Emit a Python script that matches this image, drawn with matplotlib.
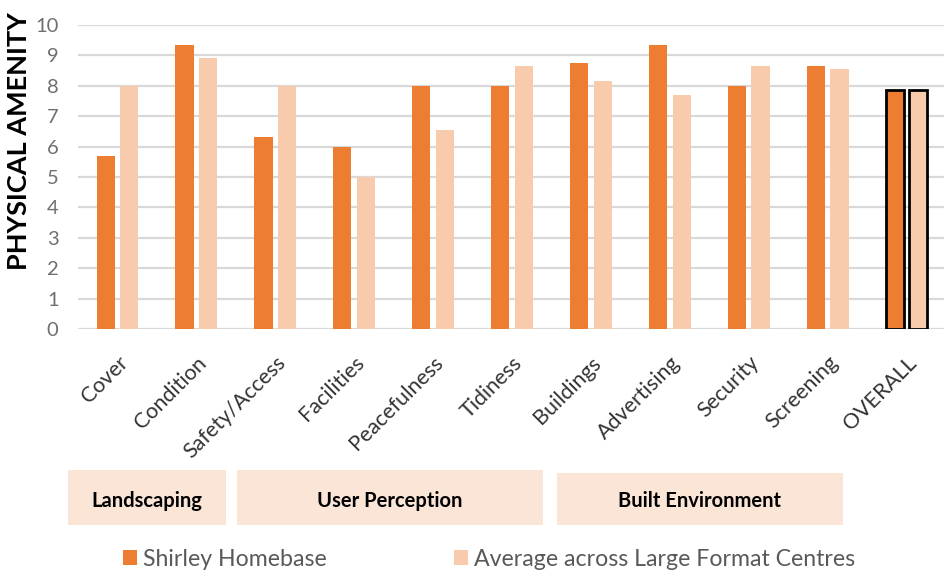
import matplotlib
matplotlib.use("Agg")
import matplotlib.pyplot as plt
import numpy as np
from matplotlib.patches import Rectangle, Patch

plt.rcParams['font.family'] = ['Lato', 'DejaVu Sans']

categories = ["Cover", "Condition", "Safety/Access", "Facilities", "Peacefulness",
              "Tidiness", "Buildings", "Advertising", "Security", "Screening", "OVERALL"]
shirley = [5.7, 9.35, 6.3, 6.0, 8.0, 8.0, 8.75, 9.35, 8.0, 8.65, 7.85]
average = [8.0, 8.9, 8.0, 5.0, 6.55, 8.65, 8.15, 7.7, 8.65, 8.55, 7.85]
series_names = ["Shirley Homebase", "Average across Large Format Centres"]
groups = ["Landscaping", "User Perception", "Built Environment"]
yticks = list(range(0, 11))

C_DARK = "#ED7D31"
C_LIGHT = "#F8CBAD"
GREY = "#595959"

W, H = 945, 572
fig = plt.figure(figsize=(W / 100, H / 100), dpi=100)
ax = fig.add_axes([78 / W, 1 - 329 / H, 868 / W, 304 / H])

x = np.arange(len(categories))
bw = 0.23
off = 0.15
edges = ['none'] * (len(categories) - 1) + ['black']
lws = [0] * (len(categories) - 1) + [2]
ax.bar(x - off, shirley, bw, color=C_DARK, edgecolor=edges, linewidth=lws, zorder=3)
ax.bar(x + off, average, bw, color=C_LIGHT, edgecolor=edges, linewidth=lws, zorder=3)

ax.set_xlim(-0.5, len(categories) - 0.5)
ax.set_ylim(0, 10)
ax.set_yticks(yticks)
ax.set_yticklabels([str(t) for t in yticks], fontsize=14.5, color="#6f6f6f")
ax.yaxis.grid(True, color="#D9D9D9", linewidth=1.6, zorder=0)
ax.set_axisbelow(True)
for s in ax.spines.values():
    s.set_visible(False)
ax.tick_params(axis='both', length=0)
ax.tick_params(axis='y', pad=14)
ax.set_xticks(x)
ax.set_xticklabels(categories, rotation=45, ha='right', va='top',
                   rotation_mode='anchor', fontsize=15.5, color="#333333")
ax.tick_params(axis='x', pad=17)

fig.text(19 / W, 1 - 141 / H, "PHYSICAL AMENITY", rotation=90, ha='center', va='center',
         fontsize=19.5, fontweight='bold', color='black')

# category boxes (pixel extents)
boxes = [(68, 226, 470, 525), (237, 543, 470, 525), (557, 843, 473, 525)]
for name, (x0, x1, y0, y1) in zip(groups, boxes):
    fig.patches.append(Rectangle((x0 / W, 1 - y1 / H), (x1 - x0) / W, (y1 - y0) / H,
                                 transform=fig.transFigure, facecolor="#FBE5D6",
                                 edgecolor='none'))
    fig.text((x0 + x1) / 2 / W, 1 - 501 / H, name, ha='center', va='center',
             fontsize=14.5, fontweight='bold', color='black')

handles = [Patch(facecolor=C_DARK), Patch(facecolor=C_LIGHT)]
fig.legend(handles, series_names, loc='center left', bbox_to_anchor=(123 / W, 1 - 559 / H),
           ncol=2, frameon=False, fontsize=16.7, labelcolor=GREY,
           handlelength=0.6, handleheight=0.6, handletextpad=0.25, columnspacing=5.5,
           borderpad=0, borderaxespad=0)

fig.savefig("out.png", dpi=100)
